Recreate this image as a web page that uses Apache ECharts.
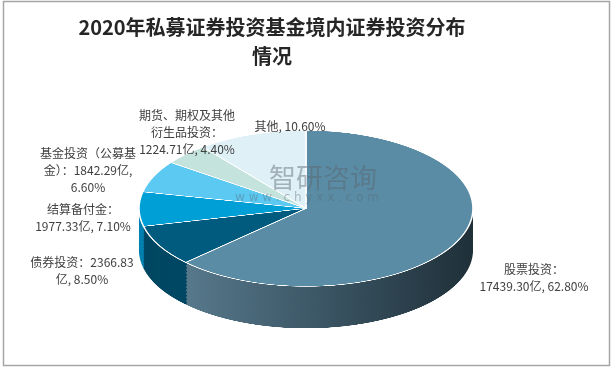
<!DOCTYPE html>
<html>
<head>
<meta charset="utf-8">
<script src="https://cdn.jsdelivr.net/npm/echarts@6/dist/echarts.min.js"></script>
<style>
  html, body { margin: 0; padding: 0; background: #fff; }
  #wrap { position: relative; width: 614px; height: 369px; overflow: hidden; }
  /* 饼图画布整体压扁, 形成椭圆的立体饼 */
  #pie { position: absolute; left: 0; top: 128px; width: 614px; height: 435px;
         transform: scaleY(0.467); transform-origin: 0 0; }
  #overlay { position: absolute; left: 0; top: 0; width: 614px; height: 369px; }
</style>
</head>
<body>
<div id="wrap">
  <div id="pie"></div>
  <div id="overlay"></div>
</div>
<script>
// 数据
const names = ['股票投资', '债券投资', '结算备付金', '基金投资（公募基金）', '期货、期权及其他衍生品投资', '其他'];
const amounts = [17439.30, 2366.83, 1977.33, 1842.29, 1224.71, null]; // 亿
const shares = [62.80, 8.50, 7.10, 6.60, 4.40, 10.60]; // %

// 标签换行样式
const labelTemplates = [
  '股票投资：\n{a}亿, {p}%',
  '债券投资：{a}\n亿, {p}%',
  '结算备付金：\n{a}亿, {p}%',
  '基金投资（公募基\n金）：{a}亿,\n{p}%',
  '期货、期权及其他\n衍生品投资：\n{a}亿, {p}%',
  '其他, {p}%'
];
const labelPos = [[534, 278], [82, 271], [83, 218], [88, 170], [187, 132], [290, 126]];

const topColors = ['#5a8da5', '#005b7f', '#00a0d6', '#5cc9f2', '#c5e3dd', '#dff0f7'];
const sideColors = [
  new echarts.graphic.LinearGradient(0, 0, 1, 0, [
    { offset: 0, color: '#57798b' },
    { offset: 0.5, color: '#3a5463' },
    { offset: 1, color: '#1f3039' }
  ]),
  '#004763', '#0080b0', '#3aa8d0', '#a8c8c2', '#bcd8e2'
];

const cx = 306, cy = 172, radius = 167, depth = 90;

function pieData(colors) {
  return names.map((n, i) => ({ name: n, value: shares[i], itemStyle: { color: colors[i] } }));
}

// 侧面: 多层叠加
const series = [];
for (let off = depth; off > 0; off -= 3) {
  series.push({
    type: 'pie',
    silent: true,
    animation: false,
    radius: radius,
    center: [cx, cy + off],
    startAngle: 90,
    label: { show: false },
    labelLine: { show: false },
    itemStyle: { borderWidth: 0 },
    data: pieData(sideColors)
  });
}
// 顶面
series.push({
  type: 'pie',
  silent: true,
  animation: false,
  radius: radius,
  center: [cx, cy],
  startAngle: 90,
  label: { show: false },
  labelLine: { show: false },
  itemStyle: { borderColor: '#ffffff', borderWidth: 1.6 },
  data: pieData(topColors)
});

const pieChart = echarts.init(document.getElementById('pie'), null, { devicePixelRatio: 2 });
pieChart.setOption({ animation: false, series: series });

// 文字层
const labelGraphics = labelTemplates.map((t, i) => ({
  type: 'text',
  x: labelPos[i][0],
  y: labelPos[i][1],
  style: {
    text: t.replace('{a}', amounts[i] != null ? amounts[i].toFixed(2) : '').replace('{p}', shares[i].toFixed(2)),
    fontSize: 12,
    fontFamily: 'Noto Sans CJK SC',
    fill: '#404040',
    align: 'center',
    verticalAlign: 'middle',
    lineHeight: 17
  }
}));

const overlay = echarts.init(document.getElementById('overlay'));
overlay.setOption({
  animation: false,
  title: {
    text: '2020年私募证券投资基金境内证券投资分布\n情况',
    left: 267,
    top: 8,
    textAlign: 'center',
    textStyle: {
      fontFamily: 'Noto Sans CJK SC',
      fontSize: 20,
      fontWeight: 'bold',
      color: '#262626',
      lineHeight: 29
    }
  },
  graphic: [
    {
      type: 'rect',
      shape: { x: 3.5, y: 1.5, width: 606, height: 364 },
      style: { fill: 'none', stroke: '#a6a6a6', lineWidth: 1.5 }
    },
    // 水印
    {
      type: 'text', x: 323, y: 178,
      style: { text: '智研咨询', fontSize: 27, fontFamily: 'Noto Sans CJK SC', fill: 'rgba(90,100,110,0.45)', align: 'center', verticalAlign: 'middle' }
    },
    {
      type: 'text', x: 307, y: 198,
      style: { text: 'w w w . c h y x x . c o m', fontSize: 12, fontFamily: 'DejaVu Sans', fill: 'rgba(90,100,110,0.4)', align: 'center', verticalAlign: 'middle' }
    }
  ].concat(labelGraphics)
});
</script>
</body>
</html>
